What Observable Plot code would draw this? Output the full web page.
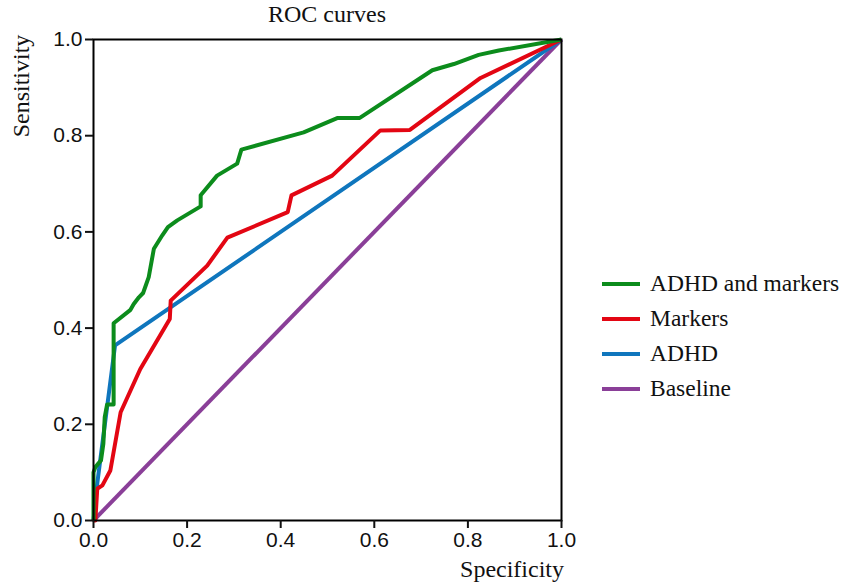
<!DOCTYPE html>
<html>
<head>
<meta charset="utf-8">
<script src="https://cdn.jsdelivr.net/npm/d3@7"></script>
<script src="https://cdn.jsdelivr.net/npm/@observablehq/plot@0.6"></script>
<style>
  html, body { margin: 0; padding: 0; background: #fff; }
  #wrap { position: relative; width: 844px; height: 585px; overflow: hidden; }
  #chart { position: absolute; left: 0; top: 0; }
  .serif { font-family: "Liberation Serif", "Times New Roman", serif; font-size: 24px; color: #111; position: absolute; white-space: nowrap; }
  #title { left: 227px; width: 200px; text-align: center; top: 1px; }
  #ylab { left: 21px; top: 86px; transform: translate(-50%, -50%) rotate(-90deg); }
  #xlab { right: 280px; top: 556px; }
  #legend { position: absolute; left: 602px; top: 266px; }
  .row { display: flex; align-items: center; height: 35px; }
  .sw { width: 38px; height: 4px; margin-right: 10px; }
  .row span { font-family: "Liberation Serif", "Times New Roman", serif; font-size: 23.5px; color: #111; }
</style>
</head>
<body>
<div id="wrap">
  <div id="chart"></div>
  <div id="title" class="serif">ROC curves</div>
  <div id="ylab" class="serif">Sensitivity</div>
  <div id="xlab" class="serif">Specificity</div>
  <div id="legend"></div>
</div>
<script>
// Series names and colours
const seriesNames = ["ADHD and markers", "Markers", "ADHD", "Baseline"];
const seriesColors = ["#0c8c1c", "#e30613", "#0f76bd", "#8a3f98"];

// ADHD and markers (green)
const comboX = [0, 0, 0.004, 0.016, 0.021, 0.024, 0.029, 0.043, 0.043, 0.079, 0.086, 0.097, 0.106, 0.118, 0.129, 0.147, 0.159, 0.179, 0.229, 0.229, 0.264, 0.307, 0.316, 0.449, 0.522, 0.569, 0.724, 0.770, 0.823, 0.866, 1.0];
const comboY = [0, 0.10, 0.111, 0.125, 0.159, 0.215, 0.241, 0.241, 0.41, 0.438, 0.45, 0.464, 0.473, 0.506, 0.565, 0.593, 0.61, 0.624, 0.653, 0.676, 0.717, 0.742, 0.771, 0.807, 0.837, 0.837, 0.936, 0.949, 0.968, 0.977, 1.0];

// Markers (red)
const markersX = [0, 0.004, 0.008, 0.019, 0.036, 0.058, 0.100, 0.163, 0.165, 0.243, 0.286, 0.415, 0.423, 0.510, 0.613, 0.676, 0.827, 1.0];
const markersY = [0, 0.0, 0.066, 0.073, 0.104, 0.225, 0.315, 0.419, 0.457, 0.530, 0.588, 0.641, 0.676, 0.717, 0.811, 0.812, 0.920, 1.0];

// ADHD (blue)
const adhdX = [0, 0.008, 0.046, 1.0];
const adhdY = [0, 0.077, 0.364, 1.0];

// Baseline (purple)
const baseX = [0, 1.0];
const baseY = [0, 1.0];

const ticks = [0, 0.2, 0.4, 0.6, 0.8, 1.0];

function toRows(xs, ys, name) { return xs.map((x, i) => ({x, y: ys[i], series: name})); }
const drawOrder = [
  toRows(baseX, baseY, "Baseline"),
  toRows(adhdX, adhdY, "ADHD"),
  toRows(markersX, markersY, "Markers"),
  toRows(comboX, comboY, "ADHD and markers")
];

const chart = Plot.plot({
  width: 844,
  height: 585,
  marginLeft: 93,
  marginRight: 283,
  marginTop: 39,
  marginBottom: 65,
  style: { fontFamily: "Liberation Sans, Arial, sans-serif", fontSize: "21px", color: "#111", background: "#fff" },
  x: { domain: [0, 1], ticks, label: null },
  y: { domain: [0, 1], ticks, label: null },
  color: { domain: seriesNames, range: seriesColors },
  marks: [
    ...drawOrder.map(rows => Plot.line(rows, { x: "x", y: "y", stroke: "series", strokeWidth: 4, strokeLinejoin: "round", strokeLinecap: "butt" })),
    Plot.frame({ stroke: "#000", strokeWidth: 2 }),
    Plot.axisX({ ticks, tickFormat: d3.format(".1f"), tickSize: 8, tickPadding: 4, strokeWidth: 2, fontSize: 21, label: null }),
    Plot.axisY({ ticks, tickFormat: d3.format(".1f"), tickSize: 8, tickPadding: 3, strokeWidth: 2, fontSize: 21, label: null })
  ]
});
document.getElementById("chart").appendChild(chart);

const legend = document.getElementById("legend");
seriesNames.forEach((name, i) => {
  const row = document.createElement("div");
  row.className = "row";
  const sw = document.createElement("div");
  sw.className = "sw";
  sw.style.background = seriesColors[i];
  const label = document.createElement("span");
  label.textContent = name;
  row.appendChild(sw);
  row.appendChild(label);
  legend.appendChild(row);
});
</script>
</body>
</html>
